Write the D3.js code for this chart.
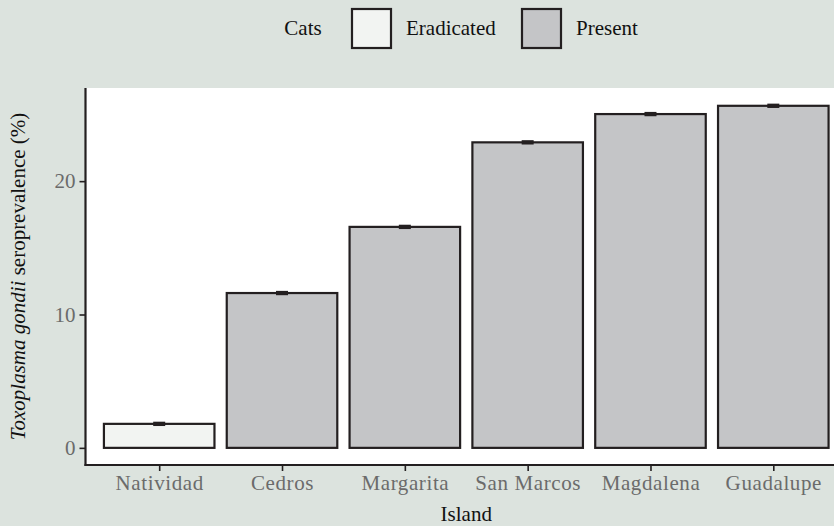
<!DOCTYPE html>
<html>
<head>
<meta charset="utf-8">
<script src="https://cdn.jsdelivr.net/npm/d3@7"></script>
<style>
  body { margin: 0; background: #dce3de; }
  svg { display: block; }
  svg text { font-family: "Liberation Serif", "DejaVu Serif", serif; }
</style>
</head>
<body>
<script>
// Seroprevalence per island
var islands = ["Natividad", "Cedros", "Margarita", "San Marcos", "Magdalena", "Guadalupe"];
var prevalence = [1.80, 11.61, 16.57, 22.91, 25.03, 25.65];
var errors = [0.05, 0.05, 0.05, 0.05, 0.05, 0.05];
var catStatus = ["Eradicated", "Present", "Present", "Present", "Present", "Present"];
var legendLabels = ["Eradicated", "Present"];
var yTicks = [0, 10, 20];

var w = 834, h = 526;
var fills = { "Eradicated": "#f2f4f2", "Present": "#c4c5c7" };
var ink = "#231f20";
var serif = "'Liberation Serif', 'DejaVu Serif', serif";

var svg = d3.select("body").append("svg").attr("width", w).attr("height", h);

// Panel position (right side runs off the window in the original)
var panelL = 85.5, panelR = 847, panelT = 88, panelB = 465;

// Discrete x scale with ggplot style 0.6 expansion on each side
var xScale = d3.scaleLinear().domain([0.4, islands.length + 0.6]).range([panelL, panelR]);
var barW = 0.9 * (xScale(2) - xScale(1));

// Y scale with 5% expansion
var yMax = d3.max(prevalence, function(d, i) { return d + errors[i]; });
var yScale = d3.scaleLinear().domain([-0.05 * yMax, 1.05 * yMax]).range([panelB, panelT]);

// White panel
svg.append("rect").attr("x", panelL).attr("y", panelT)
   .attr("width", panelR - panelL).attr("height", panelB - panelT).attr("fill", "white");

// Bars
svg.selectAll("rect.bar").data(prevalence).enter().append("rect")
   .attr("class", "bar")
   .attr("x", function(d, i) { return xScale(i + 1) - barW / 2; })
   .attr("y", function(d) { return yScale(d); })
   .attr("width", barW)
   .attr("height", function(d) { return yScale(0) - yScale(d); })
   .attr("fill", function(d, i) { return fills[catStatus[i]]; })
   .attr("stroke", ink).attr("stroke-width", 2.2);

// Error bars (tiny)
svg.selectAll("rect.eb").data(prevalence).enter().append("rect")
  .attr("class", "eb")
  .attr("x", function(d, i) { return xScale(i + 1) - 6; })
  .attr("y", function(d, i) { return yScale(d + errors[i]) - 1.5; })
  .attr("width", 12)
  .attr("height", function(d, i) { return yScale(d - errors[i]) - yScale(d + errors[i]) + 3; })
  .attr("fill", ink);

// Axes
var yAxis = d3.axisLeft(yScale).tickValues(yTicks).tickSize(6).tickPadding(4);
var gy = svg.append("g").attr("transform", "translate(" + panelL + ",0)").call(yAxis);
var xAxis = d3.axisBottom(xScale).tickValues(d3.range(1, islands.length + 1))
              .tickFormat(function(d) { return islands[d - 1]; }).tickSize(6).tickPadding(4);
var gx = svg.append("g").attr("transform", "translate(0," + panelB + ")").call(xAxis);

[gx, gy].forEach(function(g) {
  g.select(".domain").remove();
  g.attr("font-family", serif).attr("font-size", 21);
  g.selectAll("line").attr("stroke", ink).attr("stroke-width", 1.6);
  g.selectAll("text").attr("fill", "#6b6b6b");
});
gx.selectAll("text").attr("letter-spacing", 0.6);

// Axis lines
svg.append("line").attr("x1", panelL).attr("x2", panelL).attr("y1", panelT).attr("y2", panelB + 1)
   .attr("stroke", ink).attr("stroke-width", 2.2);
svg.append("line").attr("x1", panelL - 1).attr("x2", panelR).attr("y1", panelB).attr("y2", panelB)
   .attr("stroke", ink).attr("stroke-width", 2.2);

// Axis titles
svg.append("text").attr("x", (panelL + panelR) / 2).attr("y", 521)
   .attr("text-anchor", "middle").attr("font-family", serif).attr("font-size", 21)
   .attr("fill", "#111").text("Island");

var yTitle = svg.append("text")
   .attr("transform", "translate(25," + ((panelT + panelB) / 2) + ") rotate(-90)")
   .attr("text-anchor", "middle").attr("font-family", serif).attr("font-size", 21)
   .attr("fill", "#111");
yTitle.append("tspan").attr("font-style", "italic").text("Toxoplasma gondii");
yTitle.append("tspan").text(" seroprevalence (%)");

// Legend
var legend = svg.append("g").attr("font-family", serif).attr("font-size", 21).attr("fill", "#111");
legend.append("text").attr("x", 303).attr("y", 35).attr("text-anchor", "middle").text("Cats");
var keyX = [352, 522];
legendLabels.forEach(function(lab, i) {
  legend.append("rect").attr("x", keyX[i]).attr("y", 9).attr("width", 39).attr("height", 39)
        .attr("fill", fills[lab]).attr("stroke", ink).attr("stroke-width", 2.2);
  legend.append("text").attr("x", keyX[i] + 54).attr("y", 35).text(lab);
});
</script>
</body>
</html>
